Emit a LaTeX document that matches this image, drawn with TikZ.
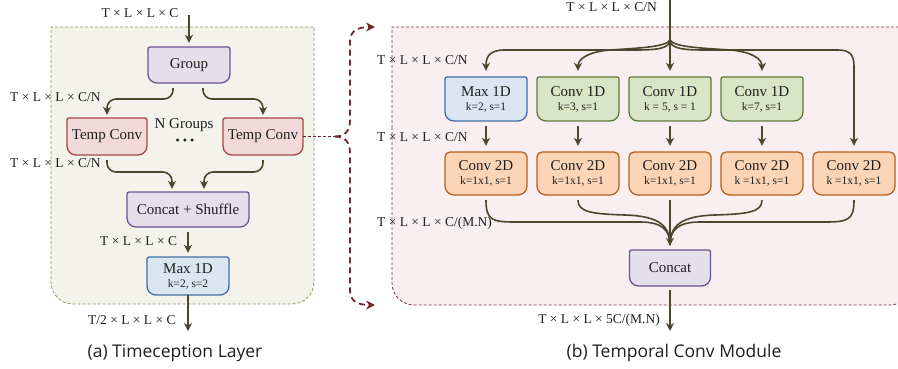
\documentclass[tikz,border=0pt]{standalone}
\usepackage{fontspec}
\setmainfont{Liberation Serif}
\newfontfamily\capfont{Open Sans}
\usetikzlibrary{arrows.meta}
\definecolor{arrowc}{HTML}{4A472C}
\definecolor{txt}{HTML}{1E1E1E}
\definecolor{lpf}{HTML}{F3F3EC}
\definecolor{lpd}{HTML}{84945C}
\definecolor{rpf}{HTML}{F9EFF1}
\definecolor{rpd}{HTML}{7A3C3C}
\definecolor{brc}{HTML}{6E2A2A}
\definecolor{grpf}{HTML}{E5DFEC}
\definecolor{grpd}{HTML}{6E5290}
\definecolor{tcf}{HTML}{F3DADA}
\definecolor{tcd}{HTML}{A84646}
\definecolor{mxf}{HTML}{DCE6F2}
\definecolor{mxd}{HTML}{406EA6}
\definecolor{cof}{HTML}{D9E5C5}
\definecolor{cod}{HTML}{5E7B3A}
\definecolor{ctf}{HTML}{FBD5B5}
\definecolor{ctd}{HTML}{B5601E}
\newcommand\mkbox[8]{%
  \path[#6, line width=1.3pt] ({#2-#4/2},#3) [rounded corners=#7pt] -- ({#2-#4/2},{#3-#5/2}) -- ({#2+#4/2},{#3-#5/2}) -- ({#2+#4/2},#3) [rounded corners=9pt] -- ({#2+#4/2},{#3+#5/2}) -- ({#2-#4/2},{#3+#5/2}) -- cycle;
  \node[btxt, minimum width=#4pt, minimum height=#5pt] (#1) at (#2,#3) {#8};
}
\newcommand\subt[1]{\\[-3pt]{\fontsize{11.5}{13}\selectfont #1}}
\tikzset{
  arr/.style={draw=arrowc, line width=1.6pt, -{Stealth[length=8pt,width=8pt,inset=2.5pt]}},
  plain/.style={draw=arrowc, line width=1.6pt},
  lbl/.style={font=\fontsize{13.5}{15}\selectfont, text=txt, inner sep=0pt},
  btxt/.style={font=\fontsize{15}{17}\selectfont, text=txt, inner sep=0pt, align=center},
  captxt/.style={font=\capfont\fontsize{17.5}{20}\selectfont, text=txt, inner sep=0pt},
  brace/.style={draw=brc, line width=1.8pt, dash pattern=on 6pt off 4pt},
}
\begin{document}
\begin{tikzpicture}[x=1pt,y=-1pt]
\useasboundingbox (0,0) rectangle (898,369);
\clip (0,0) rectangle (898,369);
% panels
\path[fill=lpf, draw=lpd, line width=0.8pt, dash pattern=on 3pt off 2pt]
  (51,150) -- (51,27) -- (314,27) -- (314,150) [rounded corners=22pt] -- (314,304) -- (51,304) -- cycle;
\path[fill=rpf, draw=rpd, line width=0.8pt, dash pattern=on 3pt off 2pt]
  (392,150) -- (392,27) -- (912,27) -- (912,150) [rounded corners=22pt] -- (912,305) -- (392,305) -- cycle;

% ---------- left panel ----------
\mkbox{grp}{189}{65}{82}{36}{fill=grpf, draw=grpd}{2}{Group}
\mkbox{tcl}{107}{136.5}{80}{37}{fill=tcf, draw=tcd}{2}{Temp Conv}
\mkbox{tcr}{263}{136.5}{80}{37}{fill=tcf, draw=tcd}{2}{Temp Conv}
\mkbox{cs}{188}{209.5}{122}{35}{fill=grpf, draw=grpd}{2}{Concat + Shuffle}
\mkbox{mxl}{188}{276}{82}{38}{fill=mxf, draw=mxd}{2}{Max 1D\subt{k=2, s=2}}

\coordinate (inl) at (189,15);
\coordinate (outl) at (188,331);
\node[lbl] (linl) at (140,13) {T × L × L × C};
\node[lbl, anchor=west] (lg1) at (10,97) {T × L × L × C/N};
\node[lbl, anchor=west] (lg2) at (10,163) {T × L × L × C/N};
\node[btxt] (ngr) at (184,125) {N Groups};
\node[font=\fontsize{12}{14}\selectfont, text=txt, inner sep=0pt] (dots) at (185,142) {•\hspace{3pt}•\hspace{3pt}•};
\node[lbl, anchor=west] (lcs) at (100,241) {T × L × L × C};
\node[lbl, anchor=west] (loutl) at (88,320) {T/2 × L × L × C};
\node[captxt] (capa) at (175,353) {(a) Timeception Layer};

\draw[arr, shorten >=4pt] (inl) -- (grp.north);
\draw[arr, rounded corners=9pt, shorten >=3pt] ([xshift=-16pt,yshift=-5pt]grp.south) -- (173,99) -- (107,99) -- (tcl.north);
\draw[arr, rounded corners=9pt, shorten >=3pt] ([xshift=14pt,yshift=-5pt]grp.south) -- (203,99) -- (263,99) -- (tcr.north);
\draw[arr, rounded corners=9pt, shorten >=3pt] ([yshift=-5pt]tcl.south) -- (107,172) -- (172,172) -- ([xshift=-16pt]cs.north);
\draw[arr, rounded corners=9pt, shorten >=3pt] ([yshift=-5pt]tcr.south) -- (263,172) -- (204,172) -- ([xshift=16pt]cs.north);
\draw[arr, shorten <=5pt, shorten >=4pt] (cs.south) -- (mxl.north);
\draw[arr] (mxl.south) -- (outl);

% ---------- brace ----------
\coordinate (brm) at (335,136.5);
\coordinate (bru) at (375,27);
\coordinate (brd) at (375,305);
\draw[draw=brc, line width=1pt, dash pattern=on 3pt off 2pt] (tcr.east) -- (brm);
\draw[brace, -{Stealth[length=9pt,width=9pt,inset=3pt]}] (brm) .. controls (345,136.5) and (350,131) .. (350,120) -- (350,42) .. controls (350,32) and (356,27) .. (bru);
\draw[brace, -{Stealth[length=9pt,width=9pt,inset=3pt]}] (brm) .. controls (345,136.5) and (350,142) .. (350,153) -- (350,290) .. controls (350,300) and (356,305) .. (brd);

% ---------- right panel ----------
\mkbox{mx}{486}{99}{82}{44}{fill=mxf, draw=mxd}{2}{Max 1D\subt{k=2, s=1}}
\mkbox{ca}{578}{99}{82}{44}{fill=cof, draw=cod}{2}{Conv 1D\subt{k=3, s=1}}
\mkbox{cb}{670}{99}{82}{44}{fill=cof, draw=cod}{2}{Conv 1D\subt{k = 5, s = 1}}
\mkbox{cc}{762}{99}{82}{44}{fill=cof, draw=cod}{2}{Conv 1D\subt{k=7, s=1}}
\mkbox{da}{486}{173.5}{82}{43}{fill=ctf, draw=ctd}{5}{Conv 2D\subt{k=1x1, s=1}}
\mkbox{db}{578}{173.5}{82}{43}{fill=ctf, draw=ctd}{5}{Conv 2D\subt{k=1x1, s=1}}
\mkbox{dc}{670}{173.5}{82}{43}{fill=ctf, draw=ctd}{5}{Conv 2D\subt{k=1x1, s=1}}
\mkbox{dd}{762}{173.5}{82}{43}{fill=ctf, draw=ctd}{5}{Conv 2D\subt{k =1x1, s=1}}
\mkbox{de}{854}{173.5}{82}{43}{fill=ctf, draw=ctd}{5}{Conv 2D\subt{k =1x1, s=1}}
\mkbox{cat}{670}{268}{81}{36}{fill=grpf, draw=grpd}{2}{Concat}

\coordinate (inr) at (670,-2);
\coordinate (fan) at (670,40);
\coordinate (outr) at (670,331);
\node[lbl, anchor=east] (linr) at (657,7) {T × L × L × C/N};
\node[lbl, anchor=west] (lr1) at (377,60) {T × L × L × C/N};
\node[lbl, anchor=west] (lr2) at (377,137) {T × L × L × C/N};
\node[lbl, anchor=west] (lr3) at (377,223) {T × L × L × C/(M.N)};
\node[lbl, anchor=east] (loutr) at (660,320) {T × L × L × 5C/(M.N)};
\node[captxt] (capb) at (674,353) {(b) Temporal Conv Module};

\draw[plain] (inr) -- (fan);
\draw[arr, shorten >=6pt] (fan) .. controls (670,49) and (655,50) .. (635,50) -- (505,50) .. controls (490,50) and (486,56) .. (mx.north);
\draw[arr, shorten >=6pt] (fan) .. controls (666,47) and (640,48) .. (610,50) .. controls (586,52) and (578,60) .. (ca.north);
\draw[arr, shorten >=6pt] (fan) -- (cb.north);
\draw[arr, shorten >=6pt] (fan) .. controls (674,47) and (700,48) .. (730,50) .. controls (754,52) and (762,60) .. (cc.north);
\draw[arr, shorten >=6pt] (fan) .. controls (670,49) and (685,50) .. (705,50) -- (838,50) .. controls (850,50) and (854,55) .. (854,66) -- (de.north);

\foreach \a/\b in {mx/da, ca/db, cb/dc, cc/dd}
  \draw[arr, shorten <=5pt, shorten >=6pt] (\a.south) -- (\b.south |- \b.north);

\draw[plain, shorten <=5pt] (da.south) .. controls (486,220) and (492,222) .. (515,222) -- (640,222) .. controls (662,222) and (670,230) .. (670,245);
\draw[plain, shorten <=5pt] (db.south) .. controls (578,212) and (592,214) .. (625,215) .. controls (658,216) and (670,225) .. (670,245);
\draw[plain, shorten <=5pt] (dd.south) .. controls (762,212) and (748,214) .. (715,215) .. controls (682,216) and (670,225) .. (670,245);
\draw[plain, shorten <=5pt] (de.south) .. controls (854,220) and (848,222) .. (825,222) -- (700,222) .. controls (678,222) and (670,230) .. (670,245);
\draw[arr, shorten <=5pt, shorten >=4pt] (dc.south) -- (cat.north);
\draw[arr, shorten <=4pt] (cat.south) -- (outr);
\end{tikzpicture}
\end{document}
